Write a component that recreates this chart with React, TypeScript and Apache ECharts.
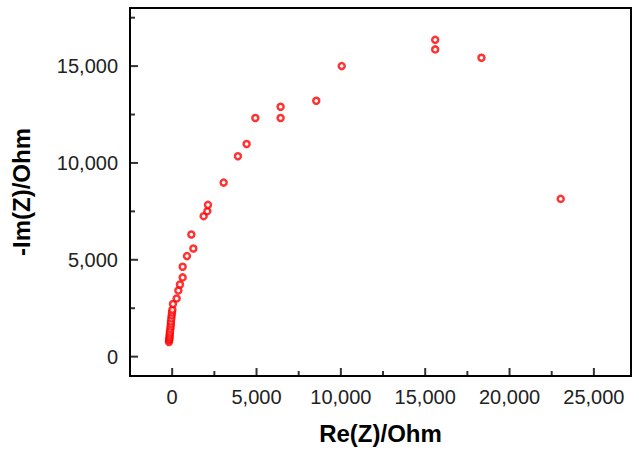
import React, { useEffect, useRef } from "react";
import * as echarts from "echarts";

const reZ = [-190, -180, -166, -155, -148, -140, -130, -110, -89, -80, -71, -50, -30, -10, 12, 47, 267, 367, 462, 622, 622, 877, 1256, 1137, 1866, 2085, 2121, 3051, 3898, 4413, 4929, 6428, 6428, 8542, 10050, 15592, 15592, 18335, 23033];
const imZ = [758, 850, 928, 1010, 1098, 1200, 1304, 1430, 1562, 1690, 1820, 1975, 2130, 2280, 2423, 2717, 3005, 3418, 3727, 4090, 4640, 5191, 5583, 6305, 7251, 7509, 7836, 8986, 10345, 10980, 12320, 12320, 12903, 13213, 15000, 15862, 16357, 15430, 8145];

const xMajor = [0, 5000, 10000, 15000, 20000, 25000];
const xMinor = [2500, 7500, 12500, 17500, 22500];
const yMajor = [0, 5000, 10000, 15000];
const yMinor = [2500, 7500, 12500, 17500];

const fmt = (v: number) => v.toLocaleString("en-US");
const FONT = "'Liberation Sans', Arial, sans-serif";

export default function App() {
  const ref = useRef<HTMLDivElement>(null);
  useEffect(() => {
    if (!ref.current) return;
    const chart = echarts.init(ref.current, undefined, { renderer: "svg" });
    const points = reZ.map((x, i) => [x, imZ[i]]);
    const labelStyle = { color: "#222", fontSize: 20, fontFamily: FONT };
    const nameStyle = { color: "#000", fontSize: 24, fontWeight: "bold" as const, fontFamily: FONT };
    const xRange = { min: -2500, max: 27200 };
    const yRange = { min: -1000, max: 18000 };
    const lineSty = { color: "#000", width: 2 };
    const MAJOR = 8;
    const MINOR = 5;
    const tickSeries = (data: number[][], size: number[], offset: number[]) => ({
      type: "scatter",
      silent: true,
      clip: false,
      z: 5,
      data,
      symbol: "rect",
      symbolSize: size,
      symbolOffset: offset,
      itemStyle: { color: "#000", borderWidth: 0 },
      emphasis: { disabled: true },
    });
    chart.setOption({
      animation: false,
      backgroundColor: "#fff",
      grid: { left: 130, right: 8, top: 8, bottom: 72, show: true, borderColor: "#000", borderWidth: 2, backgroundColor: "transparent" },
      xAxis: {
        type: "value",
        ...xRange,
        name: "Re(Z)/Ohm",
        nameLocation: "middle",
        nameGap: 45,
        nameTextStyle: nameStyle,
        axisLine: { show: true, onZero: false, lineStyle: lineSty },
        axisTick: { show: false },
        axisLabel: { ...labelStyle, margin: 11, customValues: xMajor, formatter: (v: number) => fmt(v) },
        splitLine: { show: false },
      },
      yAxis: {
        type: "value",
        ...yRange,
        name: "-Im(Z)/Ohm",
        nameLocation: "middle",
        nameGap: 97,
        nameRotate: 90,
        nameTextStyle: nameStyle,
        axisLine: { show: true, onZero: false, lineStyle: lineSty },
        axisTick: { show: false },
        axisLabel: { ...labelStyle, margin: 12, customValues: yMajor, formatter: (v: number) => fmt(v) },
        splitLine: { show: false },
      },
      series: [
        tickSeries(xMajor.map((v) => [v, yRange.min]), [2, MAJOR], [0, -MAJOR / 2]),
        tickSeries(xMinor.map((v) => [v, yRange.min]), [2, MINOR], [0, -MINOR / 2]),
        tickSeries(yMajor.map((v) => [xRange.min, v]), [MAJOR, 2], [MAJOR / 2, 0]),
        tickSeries(yMinor.map((v) => [xRange.min, v]), [MINOR, 2], [MINOR / 2, 0]),
        {
          type: "scatter",
          data: points,
          symbol: "circle",
          symbolSize: 6,
          itemStyle: { color: "#fff", borderColor: "#ff0000", borderWidth: 2.5 },
          emphasis: { disabled: true },
        },
      ],
    });
    return () => chart.dispose();
  }, []);
  return <div ref={ref} style={{ width: 639, height: 450, position: "absolute", left: 0, top: 0 }} />;
}
